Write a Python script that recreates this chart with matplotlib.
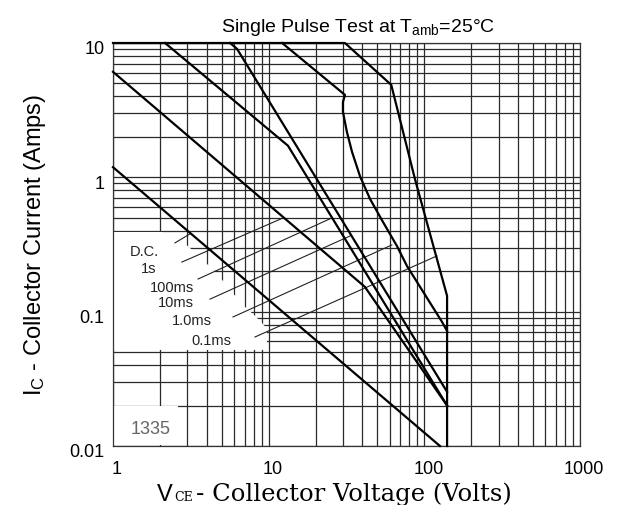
import numpy as np
import matplotlib.pyplot as plt
import matplotlib.transforms as mtransforms
from matplotlib.patches import Polygon, Rectangle
from matplotlib.ticker import FixedLocator, NullFormatter

plt.rcParams['font.family'] = ['Liberation Sans', 'DejaVu Sans']
plt.rcParams['mathtext.default'] = 'regular'

# safe operating area curves, collector voltage (V) vs collector current (A)
dc_v = [1, 126]
dc_i = [1.19, 0.01]
s1_v = [1, 41.5, 140]
s1_i = [6.1, 0.153, 0.02]
ms100_v = [2.16, 13.3, 140]
ms100_i = [10, 1.72, 0.02]
ms10_v = [5.65, 6.26, 140]
ms10_i = [10, 9.05, 0.0253]
ms1_v = [12.2, 30.9, 30.0, 30.0, 31.8, 34.3, 38.6, 44.8, 54.2, 66.7, 77.3, 130, 140]
ms1_i = [10, 4.11, 3.64, 3.07, 2.18, 1.55, 1.02, 0.69, 0.466, 0.308, 0.219, 0.0838, 0.0718]
ms01_v = [1, 30.9, 61.3, 87.0, 140, 140]
ms01_i = [10, 10, 4.88, 0.973, 0.131, 0.01]

curve_labels = ["D.C.", "1s", "100ms", "10ms", "1.0ms", "0.1ms"]
x_ticks = [1, 10, 100, 1000]
x_ticklabels = ["1", "10", "100", "1000"]
y_ticks = [0.01, 0.1, 1, 10]
y_ticklabels = ["0.01", "0.1", "1", "10"]

# where the labels sit and where their pointer lines run
label_pos = [(1.58, 0.283), (1.70, 0.2116), (2.39, 0.1527), (2.54, 0.118), (3.22, 0.0867), (4.26, 0.0616)]
ptr_tail = [(2.50, 0.325), (2.77, 0.234), (3.52, 0.175), (4.20, 0.124), (5.90, 0.0913), (8.17, 0.0648)]
ptr_head = [(3.12, 0.379), (12.4, 0.499), (25.5, 0.499), (33.3, 0.366), (61.9, 0.314), (120.5, 0.260)]

# blank (grid-free) area behind the labels
blank_area = [(1, 0.392), (2.06, 0.392), (3.03, 0.308), (4.08, 0.2227), (5.09, 0.1693),
              (6.17, 0.1287), (7.15, 0.1066), (8.05, 0.0945), (9.06, 0.0824), (9.75, 0.0743),
              (9.75, 0.0519), (1, 0.0519)]

fig = plt.figure(figsize=(6.17, 5.06), dpi=100)
ax = fig.add_axes([113 / 617, 1 - 447 / 506, 467 / 617, 403 / 506])
ax.set_xscale('log')
ax.set_yscale('log')
ax.set_xlim(1, 1000)
ax.set_ylim(0.01, 10)

ax.xaxis.set_major_locator(FixedLocator(x_ticks))
ax.yaxis.set_major_locator(FixedLocator(y_ticks))
ax.set_xticklabels(x_ticklabels)
ax.set_yticklabels(y_ticklabels)
ax.xaxis.set_minor_locator(FixedLocator([m * 10.0 ** d for d in range(0, 3) for m in range(2, 10)]))
ax.yaxis.set_minor_locator(FixedLocator([m * 10.0 ** d for d in range(-2, 1) for m in range(2, 10)]))
ax.xaxis.set_minor_formatter(NullFormatter())
ax.yaxis.set_minor_formatter(NullFormatter())
ax.tick_params(which='both', length=0, labelsize=13)
ax.tick_params(axis='x', pad=10)
ax.tick_params(axis='y', pad=6)
for lab in ax.get_yticklabels():
    lab.set_transform(lab.get_transform() + mtransforms.ScaledTranslation(0, -4 / 100, fig.dpi_scale_trans))
for lab in ax.get_xticklabels():
    lab.set_transform(lab.get_transform() + mtransforms.ScaledTranslation(4 / 100, 0, fig.dpi_scale_trans))

ax.set_axisbelow(True)
ax.grid(which='both', color='#2a2a2a', lw=0.9)
for sp in ax.spines.values():
    sp.set_color('#333333')
    sp.set_linewidth(0.9)

ax.add_patch(Polygon(blank_area, closed=True, facecolor='white', edgecolor='none', zorder=1))
ax.add_patch(Rectangle((1.0, 0.0101), 1.6, 0.0096, facecolor='white', edgecolor='none', zorder=1))

for v, i in [(dc_v, dc_i), (s1_v, s1_i), (ms100_v, ms100_i), (ms10_v, ms10_i), (ms1_v, ms1_i), (ms01_v, ms01_i)]:
    ax.plot(v, i, color='black', lw=1.6, zorder=3, clip_on=False, solid_joinstyle='round')

for lbl, pos, t, h in zip(curve_labels, label_pos, ptr_tail, ptr_head):
    ax.plot([t[0], h[0]], [t[1], h[1]], color='#222222', lw=0.8, zorder=2)
    ax.text(pos[0], pos[1], lbl, ha='center', va='center', fontsize=10.5, color='#222222', zorder=4)

ax.text(1.75, 0.0134, "1335", ha='center', va='center', fontsize=13, color='#666666', zorder=4)

fig.text(358 / 617, 1 - 31.5 / 506, r"Single Pulse Test at T$_{amb}$=25°C", ha='center',
         va='baseline', fontsize=14)
fig.text(35 / 617, 0.516, r"I$_{C}$ - Collector Current (Amps)", rotation=90, ha='center',
         va='center', fontsize=17)
fig.text(157 / 617, 5 / 506, "V", fontsize=17, va='baseline')
fig.text(174 / 617, 5 / 506, "CE", fontsize=9, family='DejaVu Serif', va='baseline')
fig.text(196 / 617, 5 / 506, "- Collector Voltage (Volts)", fontsize=17.5, family='DejaVu Serif',
         va='baseline')

fig.savefig('out.png', dpi=100)
